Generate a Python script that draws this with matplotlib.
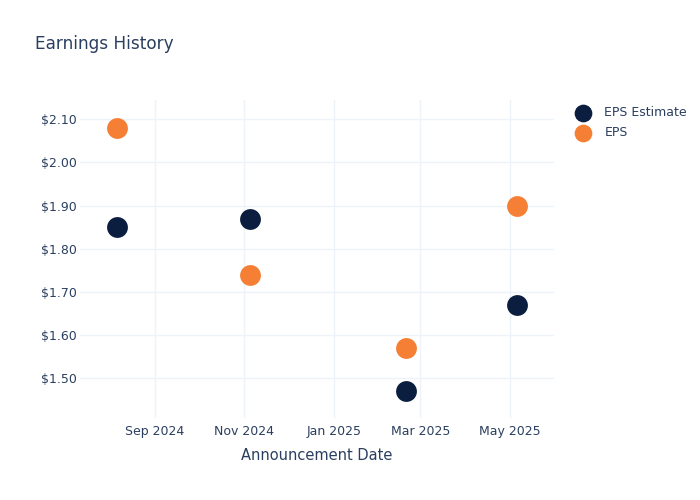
import matplotlib
matplotlib.use("Agg")
import matplotlib.pyplot as plt
import matplotlib.dates as mdates
import pandas as pd

dates = ["2024-08-06", "2024-11-05", "2025-02-19", "2025-05-06"]
eps_estimate = [1.85, 1.87, 1.47, 1.67]
eps_actual = [2.08, 1.74, 1.57, 1.90]
y_ticks = [1.50, 1.60, 1.70, 1.80, 1.90, 2.00, 2.10]

x = pd.to_datetime(dates)

TEXT = "#2a3f5f"
GRID = "#eef2f9"
NAVY = "#0b1e3f"
ORANGE = "#f58035"

plt.rcParams['font.family'] = ['DejaVu Sans']

fig = plt.figure(figsize=(7, 5), dpi=100)
ax = fig.add_axes([80/700, (500-418)/500, (554-80)/700, (418-100)/500])

ax.scatter(x, eps_estimate, s=225, color=NAVY, label="EPS Estimate", zorder=3, linewidths=0)
ax.scatter(x, eps_actual, s=225, color=ORANGE, label="EPS", zorder=3, linewidths=0)

ax.set_xlim(pd.Timestamp("2024-07-12"), pd.Timestamp("2025-05-31"))
ax.set_ylim(1.408, 2.1447)

ax.set_yticks(y_ticks)
ax.set_yticklabels([f"${v:.2f}" for v in y_ticks])
ax.xaxis.set_major_locator(mdates.MonthLocator(bymonth=[1, 3, 5, 7, 9, 11]))
ax.xaxis.set_major_formatter(mdates.DateFormatter("%b %Y"))

ax.grid(True, color=GRID, linewidth=1)
ax.set_axisbelow(True)
for s in ax.spines.values():
    s.set_visible(False)
ax.tick_params(axis='both', length=0, labelsize=9, colors=TEXT)
ax.tick_params(axis='y', pad=2)
ax.tick_params(axis='x', pad=5)

ax.set_xlabel("Announcement Date", fontsize=10.5, color=TEXT, labelpad=7.5)

fig.text(35/700, 1 - 44/500, "Earnings History", fontsize=12.2, color=TEXT, va='center', ha='left')

leg = fig.legend(loc='upper left', bbox_to_anchor=(570/700, 1 - 106/500), frameon=False,
                 fontsize=9, labelcolor=TEXT, handletextpad=0.75, labelspacing=0.58,
                 borderpad=0, borderaxespad=0, markerscale=0.85)

fig.savefig("out.png", dpi=100, facecolor="white")
